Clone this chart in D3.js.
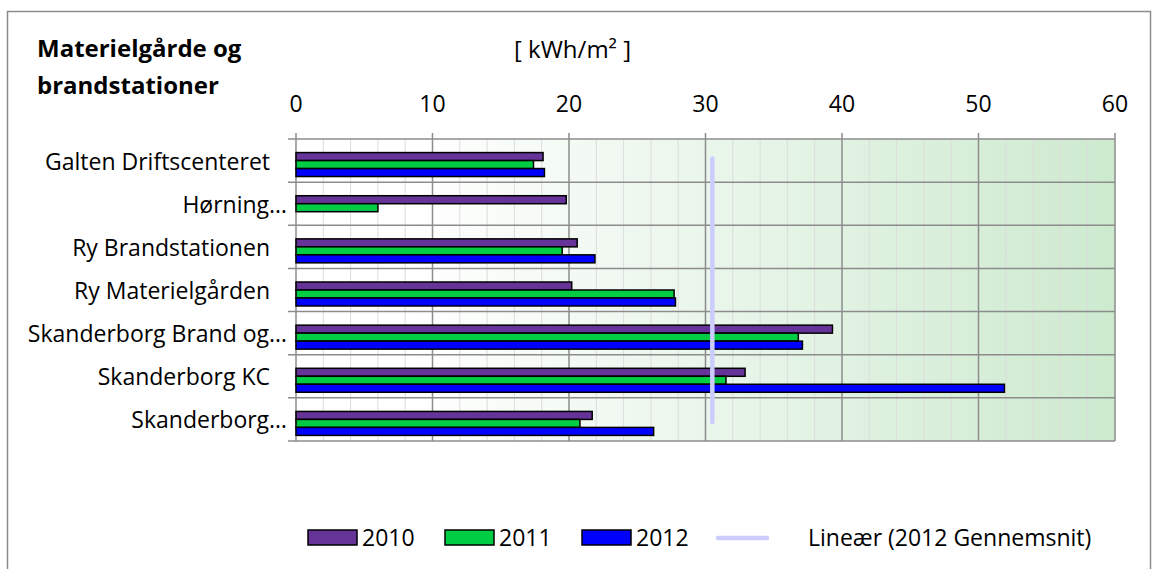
<!DOCTYPE html>
<html><head><meta charset="utf-8">
<script src="https://cdn.jsdelivr.net/npm/d3@7"></script>
<style>body{margin:0;background:#fff;} text{font-family:"Open Sans", sans-serif;}</style>
</head><body>
<svg id="c" width="1152" height="569"></svg>
<script>
const categories = ["Galten Driftscenteret","Hørning…","Ry Brandstationen","Ry Materielgården","Skanderborg Brand og…","Skanderborg KC","Skanderborg…"];
const series = ["2010","2011","2012"];
const v2010 = [18.1, 19.8, 20.6, 20.2, 39.3, 32.9, 21.7];
const v2011 = [17.4, 6.0, 19.5, 27.7, 36.8, 31.5, 20.8];
const v2012 = [18.2, null, 21.9, 27.8, 37.1, 51.9, 26.2];
const avg2012 = 30.5;
const xTicks = [0,10,20,30,40,50,60];
const colors = {"2010":"#663399","2011":"#00cc44","2012":"#0000ff"};
const values = {"2010":v2010,"2011":v2011,"2012":v2012};

const FS = 23;
const svg = d3.select("#c");
const L=296, R=1115, T=139, B=441;
const x = d3.scaleLinear().domain([0,60]).range([L,R]);
const y = d3.scaleBand().domain(categories).range([T,B]);
const slot = d3.scaleBand().domain(["gns",...series]).range([0,y.bandwidth()]).paddingOuter(0.7);

// outer border
svg.append("rect").attr("x",7.5).attr("y",11.5).attr("width",1143).attr("height",565).attr("fill","#fff").attr("stroke","#8c8c8c").attr("stroke-width",1.5);

const defs = svg.append("defs");
const g = defs.append("linearGradient").attr("id","bg").attr("x1","0").attr("x2","1").attr("y1","0").attr("y2","0");
g.append("stop").attr("offset","0").attr("stop-color","#ffffff");
g.append("stop").attr("offset","0.14").attr("stop-color","#ffffff");
g.append("stop").attr("offset","1").attr("stop-color","#cdeacf");
svg.append("rect").attr("x",L).attr("y",T).attr("width",R-L).attr("height",B-T).attr("fill","url(#bg)");

// minor grid
const minor = d3.range(0,61,2).filter(v=>v%10!==0);
svg.selectAll(".mg").data(minor).join("line").attr("x1",d=>x(d)).attr("x2",d=>x(d)).attr("y1",T).attr("y2",B).attr("stroke","#dcdcdc").attr("stroke-width",1);
// major grid
svg.selectAll(".Mg").data(xTicks).join("line").attr("x1",d=>x(d)).attr("x2",d=>x(d)).attr("y1",T-6).attr("y2",B).attr("stroke","#8c8c8c").attr("stroke-width",1.5);
// category lines
const bounds = categories.map(c=>y(c)).concat([B]);
svg.selectAll(".cg").data(bounds).join("line").attr("x1",L-8).attr("x2",R).attr("y1",d=>d).attr("y2",d=>d).attr("stroke","#8c8c8c").attr("stroke-width",1.5);

// tick labels
svg.selectAll(".tl").data(xTicks).join("text").attr("x",d=>x(d)).attr("y",104).attr("dy","0.35em").attr("text-anchor","middle").attr("font-size",FS).attr("fill","#000").text(d=>d);
// category labels
svg.selectAll(".cl").data(categories).join("text").attr("x",d=>d.endsWith("…")?287:270).attr("y",d=>y(d)+y.bandwidth()/2+1).attr("dy","0.35em").attr("text-anchor","end").attr("font-size",FS).attr("fill","#000").text(d=>d);

// bars
series.forEach(s=>{
  const data = categories.map((c,i)=>({c,v:values[s][i]})).filter(d=>d.v!=null);
  svg.selectAll(".b"+s).data(data).join("rect")
    .attr("x",x(0)).attr("y",d=>y(d.c)+slot(s)).attr("width",d=>x(d.v)-x(0)).attr("height",slot.bandwidth())
    .attr("fill",colors[s]).attr("stroke","#000").attr("stroke-width",1.5);
});

// average line
svg.append("line").attr("x1",x(avg2012)).attr("x2",x(avg2012)).attr("y1",y(categories[0])+slot("2010")+6).attr("y2",y(categories[6])+y.bandwidth()-19)
  .attr("stroke","#ccccff").attr("stroke-width",4.5).attr("stroke-linecap","round");

// titles
svg.append("text").attr("x",37).attr("y",57).attr("font-size",24).attr("font-weight","bold").text("Materielgårde og");
svg.append("text").attr("x",37).attr("y",94).attr("font-size",24).attr("font-weight","bold").text("brandstationer");
svg.append("text").attr("x",514).attr("y",58).attr("font-size",24).text("[ kWh/m² ]");

// legend
const leg = [{k:"2010",x:308},{k:"2011",x:445},{k:"2012",x:582}];
leg.forEach(l=>{
  svg.append("rect").attr("x",l.x).attr("y",530).attr("width",49).attr("height",15).attr("fill",colors[l.k]).attr("stroke","#000").attr("stroke-width",1.5);
  svg.append("text").attr("x",l.x+54).attr("y",538).attr("dy","0.35em").attr("font-size",FS).text(l.k);
});
svg.append("line").attr("x1",718).attr("x2",767).attr("y1",538).attr("y2",538).attr("stroke","#ccccff").attr("stroke-width",4.5).attr("stroke-linecap","round");
svg.append("text").attr("x",808).attr("y",538).attr("dy","0.35em").attr("font-size",FS).text("Lineær (2012 Gennemsnit)");
</script>
</body></html>
